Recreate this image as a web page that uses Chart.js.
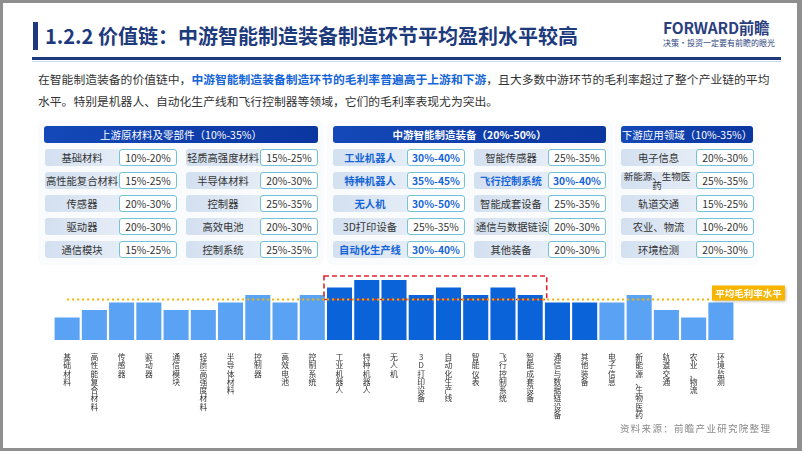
<!DOCTYPE html>
<html><head><meta charset="utf-8">
<script src="https://cdn.jsdelivr.net/npm/chart.js@4/dist/chart.umd.min.js"></script>
<style>
html,body{margin:0;padding:0;}
body{width:802px;height:451px;background:#8f8f8f;position:relative;overflow:hidden;font-family:"Noto Sans CJK SC","Noto Sans",sans-serif;}
#page{position:absolute;left:3px;top:3px;width:794px;height:445px;background:#fff;}
.abs{position:absolute;}
#tbar{left:33px;top:22px;width:5px;height:28px;background:#1d3a7d;}
#title{left:45px;top:20px;font-size:20px;font-weight:bold;color:#1d3a7d;white-space:nowrap;line-height:32px;}
#hline{left:32px;top:57px;width:749px;height:3px;background:#1d3a7d;}
#hline2{left:32px;top:61px;width:749px;height:1px;background:#c9daf2;}
#logo{left:663px;top:17px;font-size:15.5px;font-weight:bold;color:#2b3f7e;white-space:nowrap;line-height:20px;letter-spacing:-0.2px;}
#slogan{left:663px;top:37px;font-size:8px;color:#2b3f7e;white-space:nowrap;line-height:11px;}
#intro{left:38px;top:68px;font-size:11.8px;color:#333;line-height:22px;white-space:nowrap;}
#intro b{color:#1565d8;font-weight:bold;}
.panel{position:absolute;background:#fafbfd;border-radius:6px;}
.hdr{position:absolute;height:17px;line-height:17px;color:#fff;font-size:10.5px;text-align:center;border-radius:3px;background:linear-gradient(90deg,#1448b8,#0b36a0);white-space:nowrap;}
.lab{position:absolute;height:17px;line-height:17px;font-size:10.3px;color:#333;border-radius:3px;background:linear-gradient(90deg,#d3e0f0,#e4ecf6 70%,#eef3f9);white-space:nowrap;text-align:center;}
.val{position:absolute;height:15px;line-height:15px;font-size:10.3px;color:#333;border:1px solid #73c3d8;border-radius:3px;background:#fff;text-align:center;white-space:nowrap;}
.hl{color:#1565d8;font-weight:bold;}
#src{left:620px;top:421px;font-size:9.5px;color:#8a8a8a;letter-spacing:1.3px;white-space:nowrap;}
#chartc{position:absolute;left:0;top:262px;}
</style></head>
<body>
<div id="page"></div>
<div class="abs" id="tbar"></div>
<div class="abs" id="title">1.2.2 价值链：中游智能制造装备制造环节平均盈利水平较高</div>
<div class="abs" id="logo">FORWARD前瞻</div>
<div class="abs" id="slogan">决策·投资一定要有前瞻的眼光</div>
<div class="abs" id="hline"></div>
<div class="abs" id="hline2"></div>
<div class="abs" id="intro">在智能制造装备的价值链中，<b>中游智能制造装备制造环节的毛利率普遍高于上游和下游</b>，且大多数中游环节的毛利率超过了整个产业链的平均<br>水平。特别是机器人、自动化生产线和飞行控制器等领域，它们的毛利率表现尤为突出。</div>
<div id="tables"></div>
<canvas id="chartc" width="802" height="186"></canvas>
<div class="abs" id="src">资料来源：前瞻产业研究院整理</div>
<script>
// ---- table data ----
const upTitle = "上游原材料及零部件（10%-35%）";
const upNames = ["基础材料","高性能复合材料","传感器","驱动器","通信模块","轻质高强度材料","半导体材料","控制器","高效电池","控制系统"];
const upRanges = ["10%-20%","15%-25%","20%-30%","20%-30%","15%-25%","15%-25%","20%-30%","25%-35%","20%-30%","25%-35%"];
const midTitle = "中游智能制造装备（20%-50%）";
const midNames = ["工业机器人","特种机器人","无人机","3D打印设备","自动化生产线","智能传感器","飞行控制系统","智能成套设备","通信与数据链设备","其他装备"];
const midRanges = ["30%-40%","35%-45%","30%-50%","25%-35%","30%-40%","25%-35%","30%-40%","25%-35%","20%-30%","20%-30%"];
const midHighlight = ["工业机器人","特种机器人","无人机","自动化生产线","飞行控制系统"];
const downTitle = "下游应用领域（10%-35%）";
const downNames = ["电子信息","新能源、生物医药","轨道交通","农业、物流","环境检测"];
const downRanges = ["20%-30%","25%-35%","15%-25%","10%-20%","20%-30%"];

// ---- chart data ----
const categories = ["基础材料","高性能复合材料","传感器","驱动器","通信模块","轻质高强度材料","半导体材料","控制器","高效电池","控制系统",
  "工业机器人","特种机器人","无人机","3D打印设备","自动化生产线","智能仪表","飞行控制系统","智能成套设备","通信与数据链设备","其他装备",
  "电子信息","新能源、生物医药","轨道交通","农业、物流","环境监测"];
const margins = [15,20,25,25,20,20,25,30,25,30, 35,40,40,30,35,30,35,30,25,25, 25,30,20,15,25];
const segment = ["up","up","up","up","up","up","up","up","up","up","mid","mid","mid","mid","mid","mid","mid","mid","mid","mid","down","down","down","down","down"];
const avgLabel = "平均毛利率水平";
const avgValue = 27;

// ---- build tables ----
const T = document.getElementById('tables');
function el(cls, x, y, w, txt, extra){
  const d=document.createElement('div'); d.className=cls; d.style.left=x+'px'; d.style.top=y+'px'; d.style.width=w+'px';
  d.textContent=txt; if(extra) extra(d); T.appendChild(d); return d;
}
const rowY=[149,172,195,218,241];
function panel(x,y,w,h){const d=document.createElement('div');d.className='panel';d.style.left=x+'px';d.style.top=y+'px';d.style.width=w+'px';d.style.height=h+'px';T.appendChild(d);}
panel(38,121,286,144); panel(327,121,286,144); panel(615,121,144,144);
function column(names,ranges,labX,valX,hl){
  names.forEach((n,i)=>{
    const isH = hl && hl.includes(n);
    el('lab',labX,rowY[i],valX-labX+30,'',d=>{
      const s=document.createElement('div'); s.style.width=(valX-labX)+'px'; s.style.overflow='visible';
      s.textContent=n; if(isH) s.className='hl';
      if(n.length>7){s.style.whiteSpace='normal';s.style.lineHeight='9px';s.style.fontSize='9.5px';s.style.width=(valX-labX)+'px';}
      d.appendChild(s);
    });
    el('val',valX,rowY[i],56,ranges[i],d=>{if(isH) d.classList.add('hl');});
  });
}
el('hdr',44,126,274,upTitle);
el('hdr',333,126,273,midTitle,d=>{d.style.fontWeight='bold';});
el('hdr',621,126,132,downTitle);
column(upNames.slice(0,5),upRanges.slice(0,5),45,119);
column(upNames.slice(5),upRanges.slice(5),186,260);
column(midNames.slice(0,5),midRanges.slice(0,5),333,407,midHighlight);
column(midNames.slice(5),midRanges.slice(5),474,548,midHighlight);
column(downNames,downRanges,621,696);
[...T.querySelectorAll('.lab div')].forEach(d=>{ if(d.textContent==='新能源、生物医药'){ d.style.wordBreak='break-all'; d.style.width='72px';}});
[...T.querySelectorAll('.lab div')].forEach(d=>{ if(d.textContent==='通信与数据链设备'){ d.style.whiteSpace='nowrap'; d.style.lineHeight='17px'; d.style.fontSize='10.3px'; d.style.textAlign='left'; d.style.paddingLeft='2px';}});

// ---- chart ----
const colorMap = {up:'#5aa2f3', mid:'#0a63d8', down:'#5aa2f3'};
const overlay = {
  id:'overlay',
  afterDatasetsDraw(chart){
    const {ctx, scales:{x,y}} = chart;
    const meta = chart.getDatasetMeta(0);
    const ya = y.getPixelForValue(avgValue);
    const idx = margins.map((v,i)=>i).filter(i=>segment[i]==='mid' && margins[i]>avgValue);
    const first = meta.data[idx[0]], last = meta.data[idx[idx.length-1]];
    const left = first.x - first.width/2 - 3, right = last.x + last.width/2 + 4;
    const top = y.getPixelForValue(Math.max(...idx.map(i=>margins[i]))) - 4;
    ctx.save();
    ctx.strokeStyle='#e0262c'; ctx.lineWidth=1.6; ctx.setLineDash([5,3]);
    ctx.strokeRect(left, top, right-left, ya-top);
    const x0 = meta.data[0].x, x1 = 712;
    ctx.strokeStyle='#f5b400'; ctx.lineWidth=2.2; ctx.setLineDash([2,3]);
    ctx.beginPath(); ctx.moveTo(x0, ya); ctx.lineTo(x1, ya); ctx.stroke();
    ctx.setLineDash([]);
    ctx.shadowColor='rgba(0,0,0,0.25)'; ctx.shadowBlur=3; ctx.shadowOffsetX=1; ctx.shadowOffsetY=1;
    ctx.fillStyle='#f7b500';
    ctx.fillRect(x1, ya-14, 73, 15);
    ctx.shadowColor='transparent';
    ctx.fillStyle='#fff'; ctx.font='bold 9.5px "Noto Sans CJK SC"'; ctx.textAlign='center'; ctx.textBaseline='middle';
    ctx.fillText(avgLabel, x1+36.5, ya-6.5);
    ctx.restore();
  }
};
new Chart(document.getElementById('chartc'), {
  type:'bar',
  data:{
    labels: categories.map(c=>Array.from(c)),
    datasets:[{data:margins, backgroundColor: segment.map(s=>colorMap[s]), barPercentage:0.92, categoryPercentage:1.0, borderWidth:0}]
  },
  options:{
    responsive:false, animation:false, devicePixelRatio:1,
    layout:{padding:{left:53.5,right:67.5,top:0,bottom:0}},
    plugins:{legend:{display:false},tooltip:{enabled:false}},
    scales:{
      y:{display:false,min:0,max:52},
      x:{grid:{display:false},border:{display:false},
         ticks:{autoSkip:false,maxRotation:0,minRotation:0,padding:5,color:'#333',font:{size:7.8,family:'"Noto Sans CJK SC"',lineHeight:1.06}},
         afterFit(s){s.height=108;}}
    }
  },
  plugins:[overlay]
});
</script>
</body></html>
